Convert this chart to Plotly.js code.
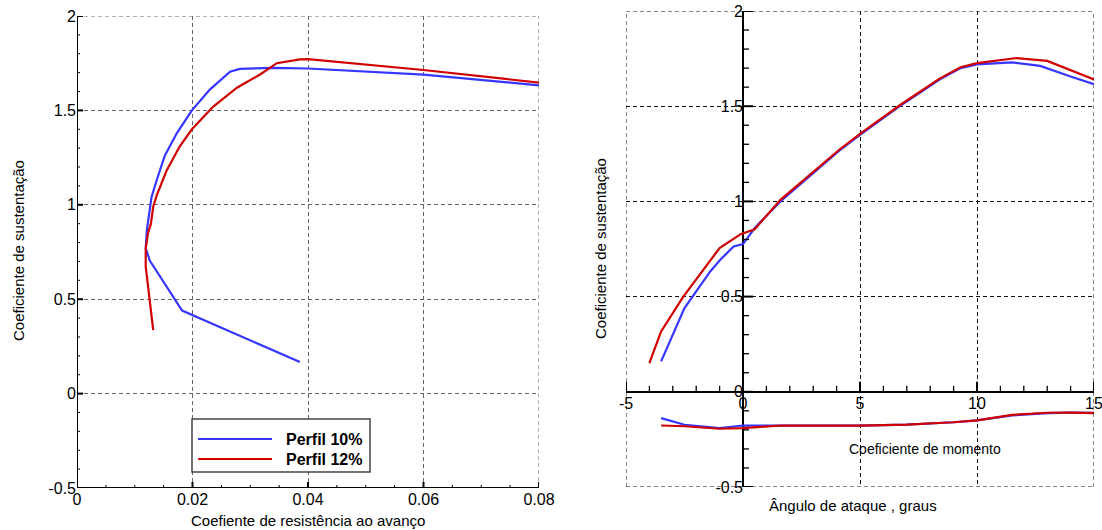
<!DOCTYPE html>
<html>
<head>
<meta charset="utf-8">
<script src="https://cdn.plot.ly/plotly-3.0.1.min.js"></script>
<style>html,body{margin:0;padding:0;}#chart{width:1102px;height:530px;}</style>
</head>
<body>
<div id="chart"></div>
<script>
// ---- Data ----
const seriesNames = ['Perfil 10%', 'Perfil 12%'];

// Left: lift vs drag polar
const cd10 = [0.0386, 0.0182, 0.0126, 0.0119, 0.0121, 0.0129, 0.0138, 0.0152, 0.0173, 0.0199, 0.0230, 0.0265, 0.0282, 0.0340, 0.0400, 0.0600, 0.0800];
const cl10 = [0.167, 0.440, 0.705, 0.770, 0.866, 1.040, 1.130, 1.260, 1.380, 1.500, 1.610, 1.705, 1.720, 1.725, 1.722, 1.690, 1.633];
const cd12 = [0.0132, 0.0119, 0.0119, 0.0123, 0.0128, 0.0132, 0.0138, 0.0155, 0.0178, 0.0199, 0.0236, 0.0277, 0.0317, 0.0346, 0.0386, 0.0400, 0.0600, 0.0800];
const cl12 = [0.336, 0.672, 0.770, 0.850, 0.900, 0.990, 1.050, 1.180, 1.310, 1.400, 1.520, 1.620, 1.690, 1.750, 1.770, 1.772, 1.714, 1.647];

// Right: lift vs angle of attack
const alpha10 = [-3.5, -2.5, -1.4, -1.0, -0.4, 0, 0.5, 1.6, 4.1, 5, 6.7, 8.4, 9.3, 10, 11.5, 12.7, 14, 15];
const clA10 = [0.16, 0.44, 0.632, 0.69, 0.763, 0.776, 0.86, 1.0, 1.265, 1.35, 1.50, 1.64, 1.70, 1.72, 1.73, 1.712, 1.656, 1.616];
const alpha12 = [-4, -3.5, -2.55, -1.7, -1.0, -0.1, 0.5, 1.6, 4.1, 5, 6.7, 8.4, 9.3, 10, 11.7, 13, 14, 15];
const clA12 = [0.151, 0.317, 0.50, 0.64, 0.755, 0.828, 0.854, 1.008, 1.27, 1.355, 1.505, 1.645, 1.705, 1.726, 1.753, 1.738, 1.688, 1.64];

// Right: moment coefficient vs angle of attack
const alphaCm10 = [-3.5, -2.5, -1.0, 0, 1.0, 3, 5, 7, 9, 10, 11.5, 13, 14, 15];
const cm10 = [-0.138, -0.173, -0.191, -0.177, -0.178, -0.179, -0.178, -0.172, -0.160, -0.150, -0.124, -0.112, -0.109, -0.110];
const alphaCm12 = [-3.5, -2.5, -1.0, 0, 1.6, 3, 5, 7, 9, 10, 11.5, 13, 14, 15];
const cm12 = [-0.177, -0.181, -0.194, -0.191, -0.177, -0.178, -0.178, -0.172, -0.160, -0.150, -0.121, -0.110, -0.109, -0.112];

// Tick positions and labels
const leftXTicks = [0, 0.02, 0.04, 0.06, 0.08];
const leftXText = ['0', '0.02', '0.04', '0.06', '0.08'];
const leftXMinor = [0.005, 0.01, 0.015, 0.025, 0.03, 0.035, 0.045, 0.05, 0.055, 0.065, 0.07, 0.075];
const yTicks = [-0.5, 0, 0.5, 1, 1.5, 2];
const yText = ['-0.5', '0', '0.5', '1', '1.5', '2'];
const yMinor = [-0.4, -0.3, -0.2, -0.1, 0.1, 0.2, 0.3, 0.4, 0.6, 0.7, 0.8, 0.9, 1.1, 1.2, 1.3, 1.4, 1.6, 1.7, 1.8, 1.9];
const rightXTicks = [-5, 0, 5, 10, 15];
const rightXText = ['-5', '0', '5', '10', '15'];
const rightXMinor = [-4, -3, -2, -1, 1, 2, 3, 4, 6, 7, 8, 9, 11, 12, 13, 14];

// Titles
const leftXTitle = 'Coefiente de resistência ao avanço';
const yTitle = 'Coeficiente de sustentação';
const rightXTitle = 'Ângulo de ataque , graus';
const momentLabel = 'Coeficiente de momento';

// ---- Build ----
(function () {
  const W = 1102, H = 530;
  const fx = v => v / W;
  const fy = v => 1 - v / H;
  const FAM = 'Liberation Sans, Arial, sans-serif';
  const BLUE = '#3636ff', RED = '#d10000';
  const LG = '#666', RG = '#111', DASH = '4px,3px';

  const tr = (x, y, c, xa, ya) => ({x: x, y: y, type: 'scatter', mode: 'lines', xaxis: xa, yaxis: ya,
    line: {color: c, width: 2.2}, showlegend: false, hoverinfo: 'skip'});

  const traces = [
    tr(cd10, cl10, BLUE, 'x', 'y'),
    tr(cd12, cl12, RED, 'x', 'y'),
    tr(alpha10, clA10, BLUE, 'x2', 'y2'),
    tr(alpha12, clA12, RED, 'x2', 'y2'),
    tr(alphaCm10, cm10, BLUE, 'x2', 'y2'),
    tr(alphaCm12, cm12, RED, 'x2', 'y2')
  ];

  const tf = {family: FAM, size: 16, color: '#000'};
  const axis = (extra) => Object.assign({
    showline: false, ticks: '',
    tickmode: 'array', tickfont: tf, ticklabeloverflow: 'allow',
    showgrid: true, gridwidth: 1, griddash: DASH, zeroline: false
  }, extra);

  // Axis lines and tick marks, placed with the axes' own scales
  const K = 'black';
  const seg = (xr, yr, x0, y0, x1, y1, w) => ({type: 'line', xref: xr, yref: yr, x0: x0, y0: y0, x1: x1, y1: y1, line: {color: K, width: w}});
  const yTick = (xr, yr, ax0, v, len, w) => ({type: 'line', xref: xr, yref: yr, xsizemode: 'pixel', xanchor: ax0,
    x0: 0, x1: len, y0: v, y1: v, line: {color: K, width: w}});
  const xTick = (xr, yr, v, ay0, len, w) => ({type: 'line', xref: xr, yref: yr, ysizemode: 'pixel', yanchor: ay0,
    y0: 0, y1: len, x0: v, x1: v, line: {color: K, width: w}});

  const axisShapes = [
    seg('x', 'y', leftXTicks[0], yTicks[0], leftXTicks[0], yTicks[5], 2),
    seg('x', 'y', leftXTicks[0], yTicks[0], leftXTicks[4], yTicks[0], 2)
  ];
  leftXTicks.forEach(v => axisShapes.push(xTick('x', 'y', v, yTicks[0], 6, 2)));
  leftXMinor.forEach(v => axisShapes.push(xTick('x', 'y', v, yTicks[0], 3, 1)));
  yTicks.forEach(v => axisShapes.push(yTick('x', 'y', leftXTicks[0], v, 6, 2)));
  yMinor.forEach(v => axisShapes.push(yTick('x', 'y', leftXTicks[0], v, 3, 1)));
  rightXTicks.forEach(v => axisShapes.push(xTick('x2', 'y2', v, 0, 10, 2)));
  rightXMinor.forEach(v => axisShapes.push(xTick('x2', 'y2', v, 0, 6, 1.3)));
  yTicks.forEach(v => axisShapes.push(yTick('x2', 'y2', 0, v, 10, 2)));
  yMinor.forEach(v => axisShapes.push(yTick('x2', 'y2', 0, v, 6, 1.3)));

  const layout = {
    width: W, height: H,
    margin: {l: 0, r: 0, t: 0, b: 0},
    showlegend: false,
    xaxis: axis({domain: [fx(77), fx(539)], range: [0, 0.08], anchor: 'y',
      tickvals: leftXTicks, ticktext: leftXText, gridcolor: LG}),
    yaxis: axis({domain: [fy(488), fy(16)], range: [-0.5, 2], anchor: 'x',
      tickvals: yTicks, ticktext: yText, gridcolor: LG}),
    xaxis2: axis({domain: [fx(626), fx(1094)], range: [-5, 15], anchor: 'free', position: fy(392),
      tickvals: rightXTicks, ticktext: rightXText, gridcolor: RG,
      zeroline: true, zerolinecolor: 'black', zerolinewidth: 2}),
    yaxis2: axis({domain: [fy(487), fy(11)], range: [-0.5, 2], anchor: 'free', position: fx(743),
      tickvals: yTicks, ticktext: yText, gridcolor: RG,
      zeroline: true, zerolinecolor: 'black', zerolinewidth: 2}),
    shapes: [
      // dashed frame edges (grid lines at the range ends)
      {type: 'line', xref: 'x', yref: 'y', x0: leftXTicks[0], x1: leftXTicks[4], y0: yTicks[5], y1: yTicks[5], layer: 'below', line: {color: LG, width: 1, dash: DASH}},
      {type: 'line', xref: 'x', yref: 'y', x0: leftXTicks[4], x1: leftXTicks[4], y0: yTicks[0], y1: yTicks[5], layer: 'below', line: {color: LG, width: 1, dash: DASH}},
      {type: 'line', xref: 'x2', yref: 'y2', x0: rightXTicks[0], x1: rightXTicks[4], y0: yTicks[5], y1: yTicks[5], layer: 'below', line: {color: RG, width: 1, dash: DASH}},
      {type: 'line', xref: 'x2', yref: 'y2', x0: rightXTicks[0], x1: rightXTicks[4], y0: yTicks[0], y1: yTicks[0], layer: 'below', line: {color: RG, width: 1, dash: DASH}},
      {type: 'line', xref: 'x2', yref: 'y2', x0: rightXTicks[0], x1: rightXTicks[0], y0: yTicks[0], y1: yTicks[5], layer: 'below', line: {color: RG, width: 1, dash: DASH}},
      {type: 'line', xref: 'x2', yref: 'y2', x0: rightXTicks[4], x1: rightXTicks[4], y0: yTicks[0], y1: yTicks[5], layer: 'below', line: {color: RG, width: 1, dash: DASH}},
      // legend box and keys
      {type: 'rect', xref: 'paper', yref: 'paper', x0: fx(192), x1: fx(370), y0: fy(472), y1: fy(419),
       fillcolor: '#fff', line: {color: '#444', width: 1.5}},
      {type: 'line', xref: 'paper', yref: 'paper', x0: fx(198), x1: fx(272), y0: fy(439), y1: fy(439),
       line: {color: BLUE, width: 2.2}},
      {type: 'line', xref: 'paper', yref: 'paper', x0: fx(198), x1: fx(272), y0: fy(459), y1: fy(459),
       line: {color: RED, width: 2.2}}
    ].concat(axisShapes),
    annotations: [
      {text: seriesNames[0], xref: 'paper', yref: 'paper', x: fx(284), y: fy(439), xanchor: 'left', yanchor: 'middle',
       showarrow: false, font: {family: FAM, size: 16, color: '#000', weight: 'bold'}},
      {text: seriesNames[1], xref: 'paper', yref: 'paper', x: fx(284), y: fy(459), xanchor: 'left', yanchor: 'middle',
       showarrow: false, font: {family: FAM, size: 16, color: '#000', weight: 'bold'}},
      {text: leftXTitle, xref: 'paper', yref: 'paper', x: fx(308), y: fy(520), xanchor: 'center', yanchor: 'middle',
       showarrow: false, font: {family: FAM, size: 15, color: '#000'}},
      {text: yTitle, xref: 'paper', yref: 'paper', x: fx(18), y: fy(251), xanchor: 'center', yanchor: 'middle',
       textangle: -90, showarrow: false, font: {family: FAM, size: 15, color: '#000'}},
      {text: yTitle, xref: 'paper', yref: 'paper', x: fx(600), y: fy(249), xanchor: 'center', yanchor: 'middle',
       textangle: -90, showarrow: false, font: {family: FAM, size: 15, color: '#000'}},
      {text: rightXTitle, xref: 'paper', yref: 'paper', x: fx(853), y: fy(505), xanchor: 'center', yanchor: 'middle',
       showarrow: false, font: {family: FAM, size: 15, color: '#000'}},
      {text: momentLabel, xref: 'paper', yref: 'paper', x: fx(925), y: fy(449), xanchor: 'center', yanchor: 'middle',
       showarrow: false, font: {family: FAM, size: 14, color: '#000'}}
    ]
  };

  Plotly.newPlot('chart', traces, layout, {displayModeBar: false});
})();
</script>
</body>
</html>
